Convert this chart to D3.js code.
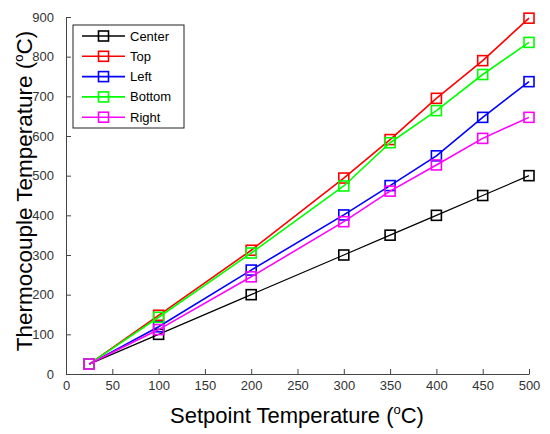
<!DOCTYPE html>
<html>
<head>
<meta charset="utf-8">
<script src="https://cdn.jsdelivr.net/npm/d3@7"></script>
<style>
  body { margin: 0; background: #fff; }
  text { font-family: "Liberation Sans", Arial, sans-serif; }
</style>
</head>
<body>
<svg id="chart" width="550" height="434"></svg>
<script>
// setpoints and readings per thermocouple position
var setpoints = [25, 100, 200, 300, 350, 400, 450, 500];
var center = [25, 100, 200, 300, 350, 400, 450, 500];
var top_ = [25, 148, 312, 494, 591, 695, 790, 897];
var left = [25, 119, 262, 401, 475, 550, 647, 737];
var bottom = [25, 143, 305, 474, 583, 664, 755, 836];
var right = [25, 112, 245, 384, 461, 527, 594, 647];

var seriesNames = ["Center", "Top", "Left", "Bottom", "Right"];
var seriesValues = [center, top_, left, bottom, right];
var seriesColors = ["#000000", "#ff0000", "#0000ff", "#00ff00", "#ff00ff"];

var xTicks = [0, 50, 100, 150, 200, 250, 300, 350, 400, 450, 500];
var yTicks = [0, 100, 200, 300, 400, 500, 600, 700, 800, 900];

var svg = d3.select("#chart");
var margin = {left: 66, top: 17, right: 21, bottom: 60};
var width = 550 - margin.left - margin.right,
	height = 434 - margin.top - margin.bottom;

var x = d3.scaleLinear().domain([0, 500]).range([0, width]);
var y = d3.scaleLinear().domain([0, 900]).range([height, 0]);

var g = svg.append("g")
	.attr("transform", "translate(" + margin.left + "," + margin.top + ")");

var axisColor = "#444";

// left and bottom axes only, ticks pointing inward
function styleAxis(sel) {
	sel.select(".domain").attr("stroke", axisColor);
	sel.selectAll("line").attr("stroke", axisColor);
	sel.selectAll("text")
		.attr("fill", "#333")
		.style("font-size", "13px");
}

g.append("g")
	.attr("transform", "translate(0," + height + ")")
	.call(d3.axisBottom(x).tickValues(xTicks).tickSizeInner(-5).tickSizeOuter(0).tickPadding(7))
	.call(styleAxis);
g.append("g")
	.call(d3.axisLeft(y).tickValues(yTicks).tickSizeInner(-5).tickSizeOuter(0).tickPadding(12))
	.call(styleAxis);

var line = d3.line()
	.x(function(d, i) { return x(setpoints[i]); })
	.y(function(d) { return y(d); });

var ms = 10;

seriesValues.forEach(function(vals, k) {
	g.append("path")
		.datum(vals)
		.attr("d", line)
		.attr("fill", "none")
		.attr("stroke", seriesColors[k])
		.attr("stroke-width", k == 0 ? 1.2 : 1.6);

	g.selectAll(".m" + k)
		.data(vals)
		.enter().append("rect")
		.attr("x", function(d, i) { return x(setpoints[i]) - ms / 2; })
		.attr("y", function(d) { return y(d) - ms / 2; })
		.attr("width", ms)
		.attr("height", ms)
		.attr("fill", "none")
		.attr("stroke", seriesColors[k])
		.attr("stroke-width", 1.6);
});

// legend
var legend = svg.append("g").attr("transform", "translate(73,25)");
legend.append("rect")
	.attr("width", 111)
	.attr("height", 103)
	.attr("fill", "#fff")
	.attr("stroke", "#222")
	.attr("stroke-width", 1);

seriesNames.forEach(function(name, k) {
	var ly = 11 + k * 20.3;
	var row = legend.append("g").attr("transform", "translate(0," + ly + ")");
	row.append("line")
		.attr("x1", 9).attr("x2", 52)
		.attr("stroke", seriesColors[k])
		.attr("stroke-width", 1.6);
	row.append("rect")
		.attr("x", 30.5 - ms / 2).attr("y", -ms / 2)
		.attr("width", ms).attr("height", ms)
		.attr("fill", "none")
		.attr("stroke", seriesColors[k])
		.attr("stroke-width", 1.6);
	row.append("text")
		.attr("x", 57)
		.attr("y", 4.5)
		.style("font-size", "13px")
		.attr("fill", "#000")
		.text(name);
});

// axis labels
var xl = svg.append("text")
	.attr("x", 297)
	.attr("y", 423)
	.attr("text-anchor", "middle")
	.style("font-size", "22px")
	.attr("fill", "#000");
xl.append("tspan").text("Setpoint Temperature (");
xl.append("tspan").attr("dy", -9).style("font-size", "13px").text("o");
xl.append("tspan").attr("dy", 9).text("C)");

var yl = svg.append("text")
	.attr("transform", "translate(32,191) rotate(-90)")
	.attr("text-anchor", "middle")
	.style("font-size", "22.5px")
	.attr("fill", "#000");
yl.append("tspan").text("Thermocouple Temperature (");
yl.append("tspan").attr("dy", -9).style("font-size", "13px").text("o");
yl.append("tspan").attr("dy", 9).text("C)");
</script>
</body>
</html>
